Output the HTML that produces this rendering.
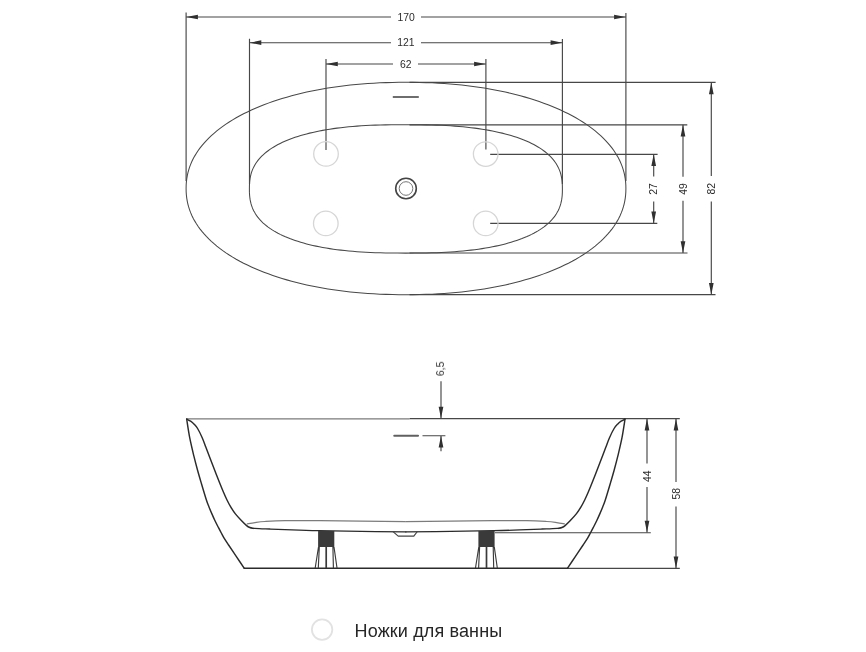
<!DOCTYPE html>
<html><head><meta charset="utf-8"><title>Bath drawing</title>
<style>html,body{margin:0;padding:0;background:#fff;}body{width:866px;height:652px;overflow:hidden;font-family:"Liberation Sans",sans-serif;}svg{display:block;filter:grayscale(1) blur(0.3px);}text{font-family:"Liberation Sans",sans-serif;}</style>
</head><body>
<svg width="866" height="652" viewBox="0 0 866 652">
<rect width="866" height="652" fill="#ffffff"/>
<g fill="none" stroke="#474747" stroke-width="1.15">
<path d="M186.1,12.5V181 M625.9,13V181"/>
<path d="M186.1,17H391 M421,17H625.9"/>
<path d="M249.5,38.8V184 M562.4,39V184"/>
<path d="M249.5,42.7H391 M421,42.7H562.4"/>
<path d="M326,59V150 M485.9,59V149.5"/>
<path d="M326,64H393 M418,64H485.9"/>
<path d="M409.5,82.4H715.6 M409.5,124.8H687.3 M490.2,154.3H657.6 M490.2,223.4H657.3 M409.5,253.0H687.5 M409.5,294.6H715.5"/>
<path d="M653.7,154.3V176.5 M653.7,201.4V223.4"/>
<path d="M683,124.8V176.7 M683,200.8V253.1"/>
<path d="M711.3,82.4V176 M711.3,201.4V294.7"/>
</g>
<g fill="none" stroke="#484848" stroke-width="1.05">
<path d="M625.90,188.50 L625.83,191.92 L625.62,195.07 L625.26,198.12 L624.76,201.11 L624.12,204.06 L623.35,206.95 L622.42,209.81 L621.36,212.63 L620.16,215.42 L618.82,218.17 L617.35,220.89 L615.73,223.57 L613.98,226.22 L612.09,228.83 L610.07,231.41 L607.92,233.95 L605.63,236.45 L603.22,238.92 L600.67,241.34 L598.00,243.72 L595.20,246.07 L592.27,248.36 L589.22,250.62 L586.05,252.83 L582.76,254.99 L579.35,257.11 L575.83,259.18 L572.19,261.20 L568.44,263.17 L564.57,265.08 L560.60,266.95 L556.53,268.76 L552.35,270.52 L548.06,272.22 L543.68,273.87 L539.20,275.45 L534.63,276.99 L529.96,278.46 L525.20,279.87 L520.35,281.22 L515.42,282.52 L510.40,283.75 L505.30,284.91 L500.11,286.02 L494.85,287.06 L489.52,288.03 L484.11,288.94 L478.62,289.79 L473.07,290.57 L467.44,291.28 L461.74,291.93 L455.97,292.51 L450.13,293.02 L444.21,293.47 L438.21,293.84 L432.12,294.15 L425.93,294.39 L419.60,294.56 L413.07,294.67 L406.00,294.70 L398.93,294.67 L392.40,294.56 L386.07,294.39 L379.88,294.15 L373.79,293.84 L367.79,293.47 L361.87,293.02 L356.03,292.51 L350.26,291.93 L344.56,291.28 L338.93,290.57 L333.38,289.79 L327.89,288.94 L322.48,288.03 L317.15,287.06 L311.89,286.02 L306.70,284.91 L301.60,283.75 L296.58,282.52 L291.65,281.22 L286.80,279.87 L282.04,278.46 L277.37,276.99 L272.80,275.45 L268.32,273.87 L263.94,272.22 L259.65,270.52 L255.47,268.76 L251.40,266.95 L247.43,265.08 L243.56,263.17 L239.81,261.20 L236.17,259.18 L232.65,257.11 L229.24,254.99 L225.95,252.83 L222.78,250.62 L219.73,248.36 L216.80,246.07 L214.00,243.72 L211.33,241.34 L208.78,238.92 L206.37,236.45 L204.08,233.95 L201.93,231.41 L199.91,228.83 L198.02,226.22 L196.27,223.57 L194.65,220.89 L193.18,218.17 L191.84,215.42 L190.64,212.63 L189.58,209.81 L188.65,206.95 L187.88,204.06 L187.24,201.11 L186.74,198.12 L186.38,195.07 L186.17,191.92 L186.10,188.50 L186.17,185.08 L186.38,181.93 L186.74,178.88 L187.24,175.89 L187.88,172.94 L188.65,170.05 L189.58,167.19 L190.64,164.37 L191.84,161.58 L193.18,158.83 L194.65,156.11 L196.27,153.43 L198.02,150.78 L199.91,148.17 L201.93,145.59 L204.08,143.05 L206.37,140.55 L208.78,138.08 L211.33,135.66 L214.00,133.28 L216.80,130.93 L219.73,128.64 L222.78,126.38 L225.95,124.17 L229.24,122.01 L232.65,119.89 L236.17,117.82 L239.81,115.80 L243.56,113.83 L247.43,111.92 L251.40,110.05 L255.47,108.24 L259.65,106.48 L263.94,104.78 L268.32,103.13 L272.80,101.55 L277.37,100.01 L282.04,98.54 L286.80,97.13 L291.65,95.78 L296.58,94.48 L301.60,93.25 L306.70,92.09 L311.89,90.98 L317.15,89.94 L322.48,88.97 L327.89,88.06 L333.38,87.21 L338.93,86.43 L344.56,85.72 L350.26,85.07 L356.03,84.49 L361.87,83.98 L367.79,83.53 L373.79,83.16 L379.88,82.85 L386.07,82.61 L392.40,82.44 L398.93,82.33 L406.00,82.30 L413.07,82.33 L419.60,82.44 L425.93,82.61 L432.12,82.85 L438.21,83.16 L444.21,83.53 L450.13,83.98 L455.97,84.49 L461.74,85.07 L467.44,85.72 L473.07,86.43 L478.62,87.21 L484.11,88.06 L489.52,88.97 L494.85,89.94 L500.11,90.98 L505.30,92.09 L510.40,93.25 L515.42,94.48 L520.35,95.78 L525.20,97.13 L529.96,98.54 L534.63,100.01 L539.20,101.55 L543.68,103.13 L548.06,104.78 L552.35,106.48 L556.53,108.24 L560.60,110.05 L564.57,111.92 L568.44,113.83 L572.19,115.80 L575.83,117.82 L579.35,119.89 L582.76,122.01 L586.05,124.17 L589.22,126.38 L592.27,128.64 L595.20,130.93 L598.00,133.28 L600.67,135.66 L603.22,138.08 L605.63,140.55 L607.92,143.05 L610.07,145.59 L612.09,148.17 L613.98,150.78 L615.73,153.43 L617.35,156.11 L618.82,158.83 L620.16,161.58 L621.36,164.37 L622.42,167.19 L623.35,170.05 L624.12,172.94 L624.76,175.89 L625.26,178.88 L625.62,181.93 L625.83,185.08Z"/>
<path d="M562.40,188.90 L562.36,192.38 L562.23,194.96 L562.01,197.28 L561.71,199.44 L561.33,201.49 L560.86,203.45 L560.30,205.35 L559.66,207.17 L558.93,208.95 L558.12,210.67 L557.22,212.35 L556.24,213.99 L555.18,215.59 L554.03,217.15 L552.79,218.67 L551.48,220.16 L550.08,221.61 L548.60,223.03 L547.03,224.42 L545.39,225.77 L543.66,227.09 L541.85,228.38 L539.96,229.64 L537.99,230.87 L535.94,232.06 L533.81,233.22 L531.60,234.35 L529.32,235.45 L526.95,236.52 L524.50,237.55 L521.98,238.56 L519.38,239.53 L516.70,240.47 L513.95,241.37 L511.11,242.25 L508.20,243.09 L505.22,243.90 L502.15,244.67 L499.01,245.41 L495.79,246.12 L492.49,246.80 L489.11,247.44 L485.64,248.05 L482.10,248.62 L478.47,249.16 L474.76,249.67 L470.96,250.14 L467.06,250.57 L463.07,250.98 L458.98,251.34 L454.77,251.68 L450.45,251.98 L445.99,252.24 L441.38,252.47 L436.60,252.66 L431.60,252.82 L426.33,252.94 L420.68,253.03 L414.39,253.08 L405.90,253.10 L397.41,253.08 L391.12,253.03 L385.47,252.94 L380.20,252.82 L375.20,252.66 L370.42,252.47 L365.81,252.24 L361.35,251.98 L357.03,251.68 L352.82,251.34 L348.73,250.98 L344.74,250.57 L340.84,250.14 L337.04,249.67 L333.33,249.16 L329.70,248.62 L326.16,248.05 L322.69,247.44 L319.31,246.80 L316.01,246.12 L312.79,245.41 L309.65,244.67 L306.58,243.90 L303.60,243.09 L300.69,242.25 L297.85,241.37 L295.10,240.47 L292.42,239.53 L289.82,238.56 L287.30,237.55 L284.85,236.52 L282.48,235.45 L280.20,234.35 L277.99,233.22 L275.86,232.06 L273.81,230.87 L271.84,229.64 L269.95,228.38 L268.14,227.09 L266.41,225.77 L264.77,224.42 L263.20,223.03 L261.72,221.61 L260.32,220.16 L259.01,218.67 L257.77,217.15 L256.62,215.59 L255.56,213.99 L254.58,212.35 L253.68,210.67 L252.87,208.95 L252.14,207.17 L251.50,205.35 L250.94,203.45 L250.47,201.49 L250.09,199.44 L249.79,197.28 L249.57,194.96 L249.44,192.38 L249.40,188.90 L249.44,185.42 L249.57,182.84 L249.79,180.52 L250.09,178.36 L250.47,176.31 L250.94,174.35 L251.50,172.45 L252.14,170.63 L252.87,168.85 L253.68,167.13 L254.58,165.45 L255.56,163.81 L256.62,162.21 L257.77,160.65 L259.01,159.13 L260.32,157.64 L261.72,156.19 L263.20,154.77 L264.77,153.38 L266.41,152.03 L268.14,150.71 L269.95,149.42 L271.84,148.16 L273.81,146.93 L275.86,145.74 L277.99,144.58 L280.20,143.45 L282.48,142.35 L284.85,141.28 L287.30,140.25 L289.82,139.24 L292.42,138.27 L295.10,137.33 L297.85,136.43 L300.69,135.55 L303.60,134.71 L306.58,133.90 L309.65,133.13 L312.79,132.39 L316.01,131.68 L319.31,131.00 L322.69,130.36 L326.16,129.75 L329.70,129.18 L333.33,128.64 L337.04,128.13 L340.84,127.66 L344.74,127.23 L348.73,126.82 L352.82,126.46 L357.03,126.12 L361.35,125.82 L365.81,125.56 L370.42,125.33 L375.20,125.14 L380.20,124.98 L385.47,124.86 L391.12,124.77 L397.41,124.72 L405.90,124.70 L414.39,124.72 L420.68,124.77 L426.33,124.86 L431.60,124.98 L436.60,125.14 L441.38,125.33 L445.99,125.56 L450.45,125.82 L454.77,126.12 L458.98,126.46 L463.07,126.82 L467.06,127.23 L470.96,127.66 L474.76,128.13 L478.47,128.64 L482.10,129.18 L485.64,129.75 L489.11,130.36 L492.49,131.00 L495.79,131.68 L499.01,132.39 L502.15,133.13 L505.22,133.90 L508.20,134.71 L511.11,135.55 L513.95,136.43 L516.70,137.33 L519.38,138.27 L521.98,139.24 L524.50,140.25 L526.95,141.28 L529.32,142.35 L531.60,143.45 L533.81,144.58 L535.94,145.74 L537.99,146.93 L539.96,148.16 L541.85,149.42 L543.66,150.71 L545.39,152.03 L547.03,153.38 L548.60,154.77 L550.08,156.19 L551.48,157.64 L552.79,159.13 L554.03,160.65 L555.18,162.21 L556.24,163.81 L557.22,165.45 L558.12,167.13 L558.93,168.85 L559.66,170.63 L560.30,172.45 L560.86,174.35 L561.33,176.31 L561.71,178.36 L562.01,180.52 L562.23,182.84 L562.36,185.42Z"/>
</g>
<g fill="none" stroke="#d6d6d6" stroke-width="1.3">
<circle cx="326" cy="153.9" r="12.3"/>
<circle cx="485.7" cy="154.1" r="12.3"/>
<circle cx="325.8" cy="223.4" r="12.3"/>
<circle cx="485.7" cy="223.4" r="12.3"/>
</g>
<circle cx="406" cy="188.5" r="10.3" fill="none" stroke="#444" stroke-width="1.6"/>
<circle cx="406" cy="188.5" r="6.8" fill="none" stroke="#777" stroke-width="1"/>
<path d="M392.8,97H418.8" stroke="#5e5e5e" stroke-width="1.8" fill="none"/>
<g fill="none" stroke="#474747" stroke-width="1.15">
<path d="M409.5,418.6H679.8"/>
<path d="M495,532.7H650.8 M567.6,568.4H679.8"/>
<path d="M647,418.6V463.5 M647,487V532.6 M676,418.6V482 M676,506.4V568.4"/>
<path d="M441,381.2V418.6 M441,435.7V451.2 M422.5,435.7H445.4"/>
</g>
<path d="M186.4,418.8H409.5" stroke="#7a7a7a" stroke-width="1.3" fill="none"/>
<path d="M394.3,435.7H418" stroke="#606060" stroke-width="2.1" stroke-linecap="round" fill="none"/>
<path d="M246.80,524.00C248.17,523.77 251.97,523.02 255.00,522.60C258.03,522.18 260.00,521.83 265.00,521.50C270.00,521.17 275.83,520.75 285.00,520.60C294.17,520.45 299.86,520.43 320.00,520.60C340.14,520.77 391.54,521.43 405.85,521.60" stroke="#7c7c7c" stroke-width="1.25" fill="none"/>
<path d="M564.90,524.00C563.53,523.77 559.73,523.02 556.70,522.60C553.67,522.18 551.70,521.83 546.70,521.50C541.70,521.17 535.87,520.75 526.70,520.60C517.53,520.45 511.84,520.43 491.70,520.60C471.56,520.77 420.16,521.43 405.85,521.60" stroke="#7c7c7c" stroke-width="1.25" fill="none"/>
<g fill="none" stroke="#2b2b2b" stroke-width="1.45" stroke-linejoin="round" stroke-linecap="round">
<path d="M186.65,419.00C187.16,422.12 188.49,431.50 189.70,437.70C190.91,443.90 192.60,450.82 193.90,456.20C195.20,461.58 196.25,465.45 197.50,470.00C198.75,474.55 199.92,478.50 201.40,483.50C202.88,488.50 205.13,496.08 206.40,500.00C207.67,503.92 208.08,504.68 209.00,507.00C209.92,509.32 210.90,511.60 211.90,513.90C212.90,516.20 213.90,518.50 215.00,520.80C216.10,523.10 217.45,525.67 218.50,527.70C219.55,529.73 220.37,531.27 221.30,533.00C222.23,534.73 222.88,536.10 224.10,538.10C225.32,540.10 226.55,541.92 228.60,545.00C230.65,548.08 233.78,552.72 236.40,556.60C239.02,560.48 242.98,566.35 244.30,568.30"/>
<path d="M625.05,419.00C624.54,422.12 623.21,431.50 622.00,437.70C620.79,443.90 619.10,450.82 617.80,456.20C616.50,461.58 615.45,465.45 614.20,470.00C612.95,474.55 611.78,478.50 610.30,483.50C608.82,488.50 606.57,496.08 605.30,500.00C604.03,503.92 603.62,504.68 602.70,507.00C601.78,509.32 600.80,511.60 599.80,513.90C598.80,516.20 597.80,518.50 596.70,520.80C595.60,523.10 594.25,525.67 593.20,527.70C592.15,529.73 591.33,531.27 590.40,533.00C589.47,534.73 588.82,536.10 587.60,538.10C586.38,540.10 585.15,541.92 583.10,545.00C581.05,548.08 577.92,552.72 575.30,556.60C572.68,560.48 568.72,566.35 567.40,568.30"/>
<path d="M244.3,568.3H567.4" stroke-width="1.6"/>
<path d="M186.90,419.20C187.52,419.53 189.43,420.42 190.60,421.20C191.77,421.98 192.73,422.68 193.90,423.90C195.07,425.12 196.22,426.20 197.60,428.50C198.98,430.80 200.83,434.62 202.20,437.70C203.57,440.78 204.62,443.92 205.80,447.00C206.98,450.08 207.83,452.37 209.30,456.20C210.77,460.03 212.83,465.45 214.60,470.00C216.37,474.55 218.43,479.83 219.90,483.50C221.37,487.17 222.22,489.25 223.40,492.00C224.58,494.75 225.78,497.52 227.00,500.00C228.22,502.48 229.30,504.58 230.70,506.90C232.10,509.22 233.58,511.58 235.40,513.90C237.22,516.22 239.73,518.85 241.60,520.80C243.47,522.75 245.23,524.48 246.60,525.60C247.97,526.72 248.65,527.03 249.80,527.50C250.95,527.97 252.88,528.25 253.50,528.40"/>
<path d="M624.80,419.20C624.18,419.53 622.27,420.42 621.10,421.20C619.93,421.98 618.97,422.68 617.80,423.90C616.63,425.12 615.48,426.20 614.10,428.50C612.72,430.80 610.87,434.62 609.50,437.70C608.13,440.78 607.08,443.92 605.90,447.00C604.72,450.08 603.87,452.37 602.40,456.20C600.93,460.03 598.87,465.45 597.10,470.00C595.33,474.55 593.27,479.83 591.80,483.50C590.33,487.17 589.48,489.25 588.30,492.00C587.12,494.75 585.92,497.52 584.70,500.00C583.48,502.48 582.40,504.58 581.00,506.90C579.60,509.22 578.12,511.58 576.30,513.90C574.48,516.22 571.97,518.85 570.10,520.80C568.23,522.75 566.47,524.48 565.10,525.60C563.73,526.72 563.05,527.03 561.90,527.50C560.75,527.97 558.82,528.25 558.20,528.40"/>
<path stroke-width="1.3" d="M253.50,528.40C254.92,528.47 259.30,528.70 262.00,528.80C264.70,528.90 265.87,528.87 269.70,529.00C273.53,529.13 276.95,529.32 285.00,529.60C293.05,529.88 302.83,530.37 318.00,530.70C333.17,531.03 361.36,531.40 376.00,531.60C390.64,531.80 400.88,531.85 405.85,531.90"/>
<path stroke-width="1.3" d="M558.20,528.40C556.78,528.47 552.40,528.70 549.70,528.80C547.00,528.90 545.83,528.87 542.00,529.00C538.17,529.13 534.75,529.32 526.70,529.60C518.65,529.88 508.87,530.37 493.70,530.70C478.53,531.03 450.34,531.40 435.70,531.60C421.06,531.80 410.83,531.85 405.85,531.90"/>
<path stroke-width="1.2" stroke="#444" d="M393.3,531.9L398.2,536.1H413.8L417,532"/>
</g>
<rect x="318.09999999999997" y="531" width="16.2" height="16" fill="#3a3a3a"/>
<g stroke="#3a3a3a" fill="none">
<path stroke-width="1.15" d="M318.5,547L315.2,568 M319.3,547L318.3,568 M332.9,547L333.4,568 M334.0,547L337.0,568"/>
<path stroke-width="1.7" d="M326.2,547V568"/>
</g>
<rect x="478.4" y="531" width="16.2" height="16" fill="#3a3a3a"/>
<g stroke="#3a3a3a" fill="none">
<path stroke-width="1.15" d="M478.8,547L475.5,568 M479.6,547L478.6,568 M493.2,547L493.7,568 M494.3,547L497.3,568"/>
<path stroke-width="1.7" d="M486.5,547V568"/>
</g>
<path fill="#303030" d="M186.1,17L197.9,14.65L197.9,19.35Z M625.9,17L614.1,14.65L614.1,19.35Z M249.5,42.7L261.3,40.35L261.3,45.050000000000004Z M562.4,42.7L550.6,40.35L550.6,45.050000000000004Z M326,64L337.8,61.65L337.8,66.35Z M485.9,64L474.09999999999997,61.65L474.09999999999997,66.35Z M653.7,154.3L651.35,166.10000000000002L656.0500000000001,166.10000000000002Z M653.7,223.4L651.35,211.6L656.0500000000001,211.6Z M683,124.8L680.65,136.6L685.35,136.6Z M683,253.1L680.65,241.29999999999998L685.35,241.29999999999998Z M711.3,82.4L708.9499999999999,94.2L713.65,94.2Z M711.3,294.7L708.9499999999999,282.9L713.65,282.9Z M647,418.6L644.65,430.40000000000003L649.35,430.40000000000003Z M647,532.6L644.65,520.8000000000001L649.35,520.8000000000001Z M676,418.6L673.65,430.40000000000003L678.35,430.40000000000003Z M676,568.4L673.65,556.6L678.35,556.6Z M441,418.6L438.65,406.8L443.35,406.8Z M441,435.7L438.65,447.5L443.35,447.5Z"/>
<g font-size="10.4" fill="#2c2c2c" text-anchor="middle" opacity="0.999">
<text x="406.2" y="20.7">170</text>
<text x="405.8" y="46.4">121</text>
<text x="405.8" y="67.7">62</text>
<text transform="translate(657.3,188.9) rotate(-90)">27</text>
<text transform="translate(686.9,189) rotate(-90)">49</text>
<text transform="translate(715,188.8) rotate(-90)">82</text>
<text transform="translate(650.7,476.2) rotate(-90)">44</text>
<text transform="translate(679.8,493.8) rotate(-90)">58</text>
<text transform="translate(444.0,368.8) rotate(-90)">6,5</text>
</g>
<g opacity="0.999"><circle cx="322.1" cy="629.6" r="10.2" fill="none" stroke="#e2e2e2" stroke-width="1.8"/><text x="354.6" y="636.9" font-size="18" fill="#262626" textLength="147.6" lengthAdjust="spacing">Ножки для ванны</text></g>
</svg></body></html>
